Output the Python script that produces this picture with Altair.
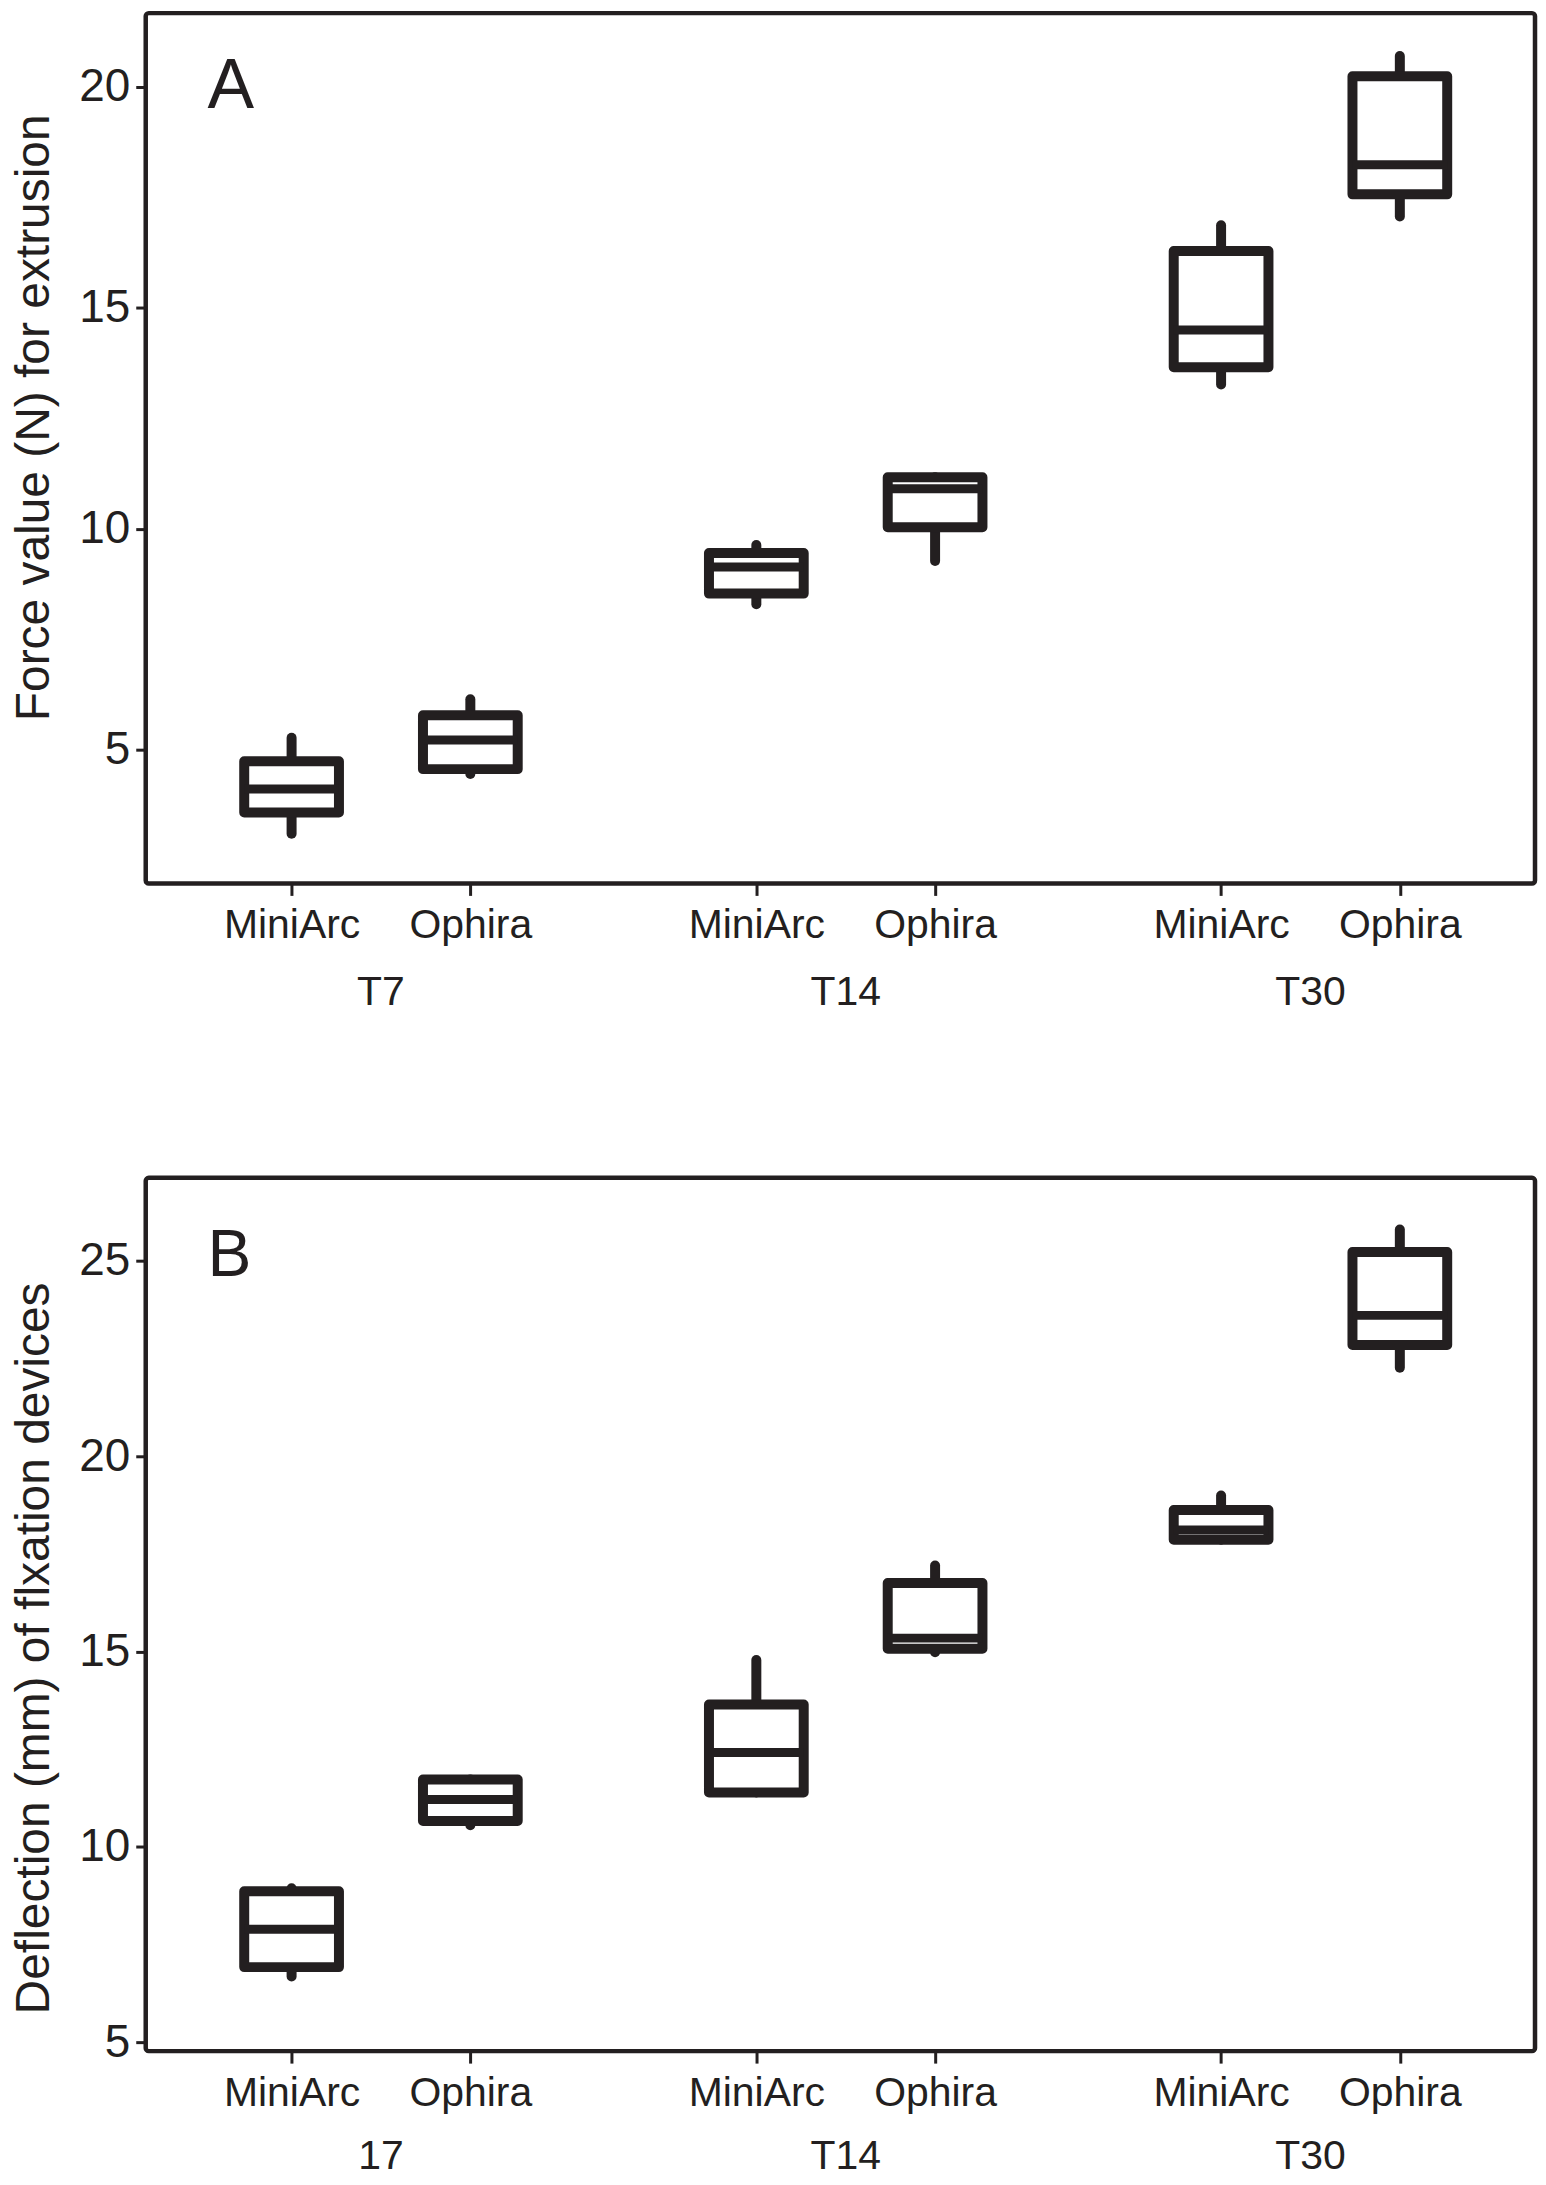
import altair as alt
import pandas as pd

INK = "#231f20"
FONT = "Liberation Sans"

devices = ["MiniArc", "Ophira"]
groups_a = ["T7", "T14", "T30"]
groups_b = ["17", "T14", "T30"]

# Panel A: force value (N) for extrusion; order T7 MiniArc, T7 Ophira, T14 MiniArc, T14 Ophira, T30 MiniArc, T30 Ophira
a_min = [3.10, 4.45, 8.29, 9.27, 13.26, 17.06]
a_q1 = [3.58, 4.56, 8.53, 10.03, 13.65, 17.56]
a_med = [4.11, 5.22, 9.13, 10.90, 14.49, 18.23]
a_q3 = [4.74, 5.78, 9.45, 11.16, 16.28, 20.23]
a_max = [5.27, 6.14, 9.63, 11.16, 16.86, 20.69]

# Panel B: deflection (mm) of fixation devices
b_min = [6.68, 10.55, 11.39, 14.98, 17.86, 22.26]
b_q1 = [6.92, 10.66, 11.39, 15.07, 17.86, 22.84]
b_med = [7.89, 11.21, 12.41, 15.34, 18.11, 23.60]
b_q3 = [8.86, 11.72, 13.64, 16.75, 18.62, 25.22]
b_max = [8.94, 11.72, 14.78, 17.20, 18.99, 25.80]

a_ticks = [5, 10, 15, 20]
b_ticks = [5, 10, 15, 20, 25]

GAP = 2.6      # distance between groups, in units of device spacing
HALF = 0.265   # half box width
PLOT_W = 1392
UNIT = 179.1   # pixels per device spacing
X_DOMAIN = [-0.816, -0.816 + PLOT_W / UNIT]


def panel(groups, mins, q1s, meds, q3s, maxs, y_domain, y_ticks, height,
          title, title_y, letter, letter_size, letter_y, group_dy):
    rows = []
    for gi, g in enumerate(groups):
        for di, d in enumerate(devices):
            i = gi * 2 + di
            rows.append(dict(group=g, device=d, pos=gi * GAP + di,
                             lo=mins[i], q1=q1s[i], med=meds[i], q3=q3s[i], hi=maxs[i]))
    df = pd.DataFrame(rows)
    gdf = pd.DataFrame({"group": groups, "gpos": [gi * GAP + 0.5 for gi in range(len(groups))]})
    tick_vals = list(df["pos"])

    xscale = alt.Scale(domain=X_DOMAIN, nice=False, zero=False)
    yscale = alt.Scale(domain=y_domain, nice=False, zero=False)
    xaxis = alt.Axis(values=tick_vals, title=None, grid=False, domain=False,
                     labelExpr="(datum.value % 2.6) < 0.5 || (datum.value % 2.6) > 2.1 ? 'MiniArc' : 'Ophira'",
                     labelAngle=0, labelFontSize=41, labelFont=FONT, labelColor=INK,
                     labelPadding=10, tickSize=12, tickWidth=3, tickColor=INK)
    yaxis = alt.Axis(values=y_ticks, title=title, grid=False, domain=False,
                     labelFontSize=46, labelFont=FONT, labelColor=INK, labelPadding=6,
                     tickSize=10, tickWidth=3, tickColor=INK,
                     titleFontSize=48, titleFont=FONT, titleColor=INK, titleFontWeight="normal",
                     titleX=-97, titleY=title_y, titleBaseline="alphabetic", titleAngle=270)

    base = alt.Chart(df)
    up = base.mark_rule(stroke=INK, strokeWidth=10, strokeCap="round").encode(
        x=alt.X("pos:Q", scale=xscale, axis=xaxis),
        y=alt.Y("q3:Q", scale=yscale, axis=yaxis), y2="hi:Q")
    down = base.mark_rule(stroke=INK, strokeWidth=10, strokeCap="round").encode(
        x=alt.X("pos:Q", scale=xscale, axis=xaxis),
        y=alt.Y("lo:Q", scale=yscale, axis=yaxis), y2="q1:Q")
    box = base.transform_calculate(
        xl=f"datum.pos - {HALF}", xr=f"datum.pos + {HALF}"
    ).mark_rect(fill="white", stroke=INK, strokeWidth=10, strokeJoin="round").encode(
        x=alt.X("xl:Q", scale=xscale, axis=xaxis), x2="xr:Q",
        y=alt.Y("q1:Q", scale=yscale, axis=yaxis), y2="q3:Q")
    med = base.transform_calculate(
        xl=f"datum.pos - {HALF}", xr=f"datum.pos + {HALF}"
    ).mark_rule(stroke=INK, strokeWidth=9).encode(
        x=alt.X("xl:Q", scale=xscale, axis=xaxis), x2="xr:Q",
        y=alt.Y("med:Q", scale=yscale, axis=yaxis))
    glab = alt.Chart(gdf).mark_text(fontSize=41, font=FONT, color=INK, baseline="alphabetic",
                                     align="center").encode(
        x=alt.X("gpos:Q", scale=xscale, axis=xaxis),
        y=alt.value(height + group_dy), text="group:N")
    let = alt.Chart(pd.DataFrame({"l": [letter]})).mark_text(
        fontSize=letter_size, font=FONT, color=INK, baseline="alphabetic", align="left").encode(
        x=alt.value(62), y=alt.value(letter_y), text="l:N")

    return alt.layer(up, down, box, med, glab, let).properties(width=PLOT_W, height=height)


A_TOP = 10
A_H = 882 - A_TOP
chart_a = panel(groups_a, a_min, a_q1, a_med, a_q3, a_max,
                [20 - (882 - 83.5) / 44.3, 20 + (83.5 - A_TOP) / 44.3], a_ticks, A_H,
                "Force value (N) for extrusion", 415 - A_TOP, "A", 70, 105 - A_TOP, 122)
B_TOP = 1174
B_H = 875
chart_b = panel(groups_b, b_min, b_q1, b_med, b_q3, b_max,
                [5 - (B_TOP + B_H - 2040) / 39.15, 25 + (1257 - B_TOP) / 39.15], b_ticks, B_H,
                "Deflection (mm) of flxation devices", 1645 - B_TOP, "B", 66, 1272 - B_TOP, 118)

chart = alt.vconcat(chart_a, chart_b, spacing=159).properties(
    padding=0
).configure_view(
    stroke=INK, strokeWidth=4.5, cornerRadius=3
)

chart.save("out.html", embed_options={"renderer": "svg", "actions": False})
